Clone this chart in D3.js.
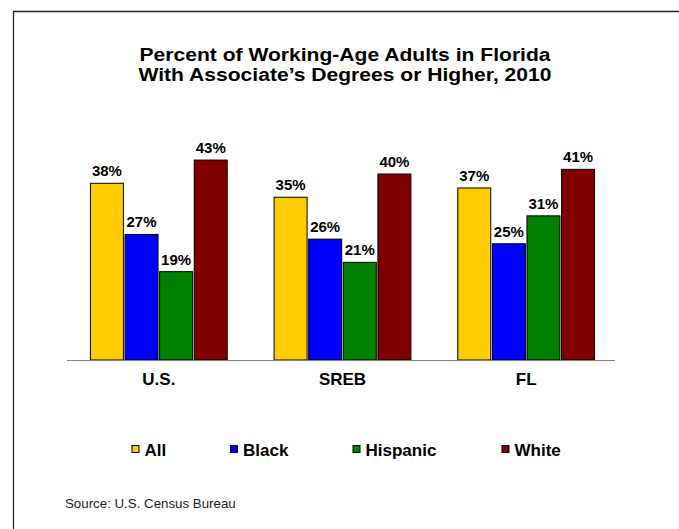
<!DOCTYPE html>
<html>
<head>
<meta charset="utf-8">
<script src="https://cdn.jsdelivr.net/npm/d3@7"></script>
<style>
  html, body { margin: 0; padding: 0; background: #fff; }
  svg { display: block; font-family: Arial, "Liberation Sans", Helvetica, sans-serif; }
</style>
</head>
<body>
<svg id="chart" width="679" height="529"></svg>
<script>
const titleLines = ["Percent of Working-Age Adults in Florida", "With Associate\u2019s Degrees or Higher, 2010"];
const categories = ["U.S.", "SREB", "FL"];
const seriesNames = ["All", "Black", "Hispanic", "White"];
const seriesColors = ["#FFCC00", "#0000FF", "#008000", "#800000"];
const valuesAll = [38, 35, 37];
const valuesBlack = [27, 26, 25];
const valuesHispanic = [19, 21, 31];
const valuesWhite = [43, 40, 41];
const sourceText = "Source: U.S. Census Bureau";

const seriesValues = [valuesAll, valuesBlack, valuesHispanic, valuesWhite];

const svg = d3.select("#chart");

// frame
svg.append("path")
  .attr("d", "M13.5,529 L13.5,11.5 L679,11.5")
  .attr("fill", "none").attr("stroke", "#222").attr("stroke-width", 1.3);

// title (slightly wide lettering, as in the reference)
svg.append("g")
  .attr("transform", "translate(345,0) scale(1.14,1)")
  .selectAll("text").data(titleLines).join("text")
  .attr("x", 0).attr("y", (d, i) => 61.5 + i * 20)
  .attr("text-anchor", "middle")
  .attr("font-size", 18.5).attr("font-weight", "bold").attr("fill", "#000")
  .text(d => d);

const x0 = d3.scaleBand().domain(categories).range([67, 618]).paddingInner(0).paddingOuter(0);
const barW = 33, gap = 1.6;
const groupW = seriesNames.length * barW + (seriesNames.length - 1) * gap;
const x1 = d3.scaleBand().domain(seriesNames).range([0, groupW]).paddingInner(gap / (barW + gap));
const y = d3.scaleLinear().domain([0, 50]).range([360, 127.5]);

const data = [];
categories.forEach((c, ci) => {
  seriesNames.forEach((s, si) => {
    data.push({ cat: c, series: s, color: seriesColors[si], value: seriesValues[si][ci] });
  });
});

const offset = (x0.bandwidth() - groupW) / 2;

const bars = svg.append("g");
bars.selectAll("rect").data(data).join("rect")
  .attr("x", d => x0(d.cat) + offset + x1(d.series))
  .attr("y", d => y(d.value))
  .attr("width", x1.bandwidth())
  .attr("height", d => y(0) - y(d.value))
  .attr("fill", d => d.color)
  .attr("stroke", "#000").attr("stroke-width", 1);

bars.selectAll("text").data(data).join("text")
  .attr("x", d => x0(d.cat) + offset + x1(d.series) + x1.bandwidth() / 2)
  .attr("y", d => y(d.value) - 7)
  .attr("text-anchor", "middle")
  .attr("font-size", 15).attr("font-weight", "bold").attr("fill", "#000")
  .text(d => d.value + "%");

// x axis
const axis = svg.append("g").attr("transform", "translate(0,360.5)")
  .call(d3.axisBottom(x0).tickSize(0).tickPadding(0));
axis.select(".domain").attr("stroke", "#808080").attr("stroke-width", 1.2)
  .attr("d", "M67,0H615");
axis.selectAll(".tick text")
  .attr("dy", null).attr("y", 24)
  .attr("font-size", 17).attr("font-weight", "bold").attr("fill", "#000")
  .attr("font-family", "Arial, 'Liberation Sans', Helvetica, sans-serif");

// legend
const legendX = [131.5, 230, 352.5, 501.5];
const legend = svg.append("g").selectAll("g").data(seriesNames).join("g")
  .attr("transform", (d, i) => `translate(${legendX[i]},0)`);
legend.append("rect")
  .attr("x", 0.5).attr("y", 445.5).attr("width", 7).attr("height", 7)
  .attr("fill", (d, i) => seriesColors[i]).attr("stroke", "#000").attr("stroke-width", 1);
legend.append("text")
  .attr("x", 13).attr("y", 456)
  .attr("font-size", 17).attr("font-weight", "bold").attr("fill", "#000")
  .text(d => d);

// source
svg.append("text")
  .attr("x", 65).attr("y", 508)
  .attr("font-size", 13.3).attr("fill", "#222")
  .text(sourceText);
</script>
</body>
</html>
